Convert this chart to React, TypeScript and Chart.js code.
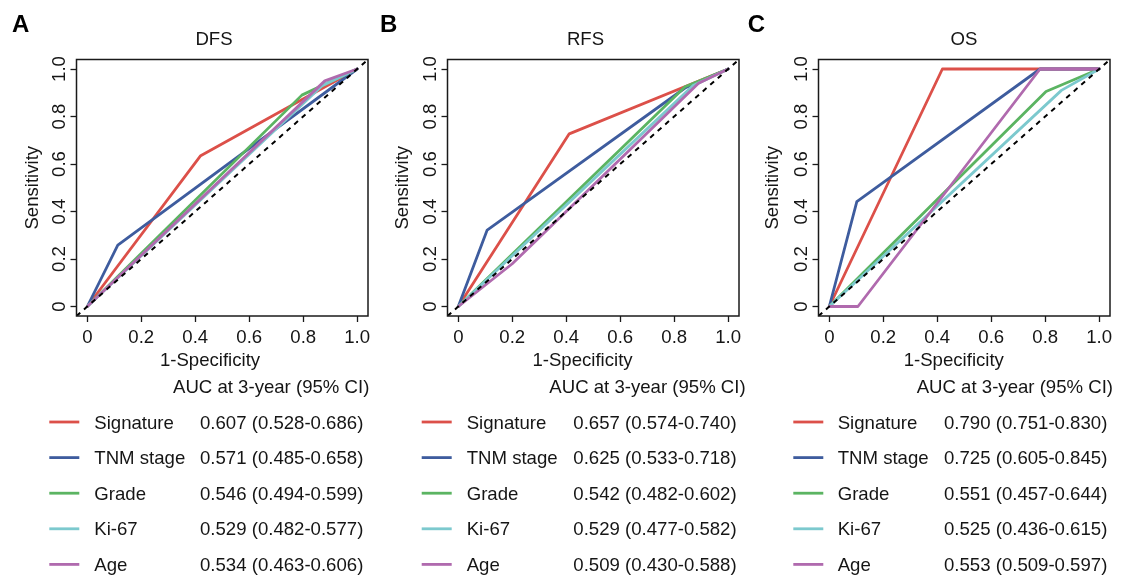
import React, { useEffect, useRef } from 'react';
import { Chart, registerables } from 'chart.js';

Chart.register(...registerables);

// ---------------- data ----------------
const MODELS = ['Signature', 'TNM stage', 'Grade', 'Ki-67', 'Age'];
const PANEL_LETTERS = ['A', 'B', 'C'];
const PANEL_TITLES = ['DFS', 'RFS', 'OS'];
const X_TICKS = [0, 0.2, 0.4, 0.6, 0.8, 1];
const TICK_LABELS = ['0', '0.2', '0.4', '0.6', '0.8', '1.0'];
const X_LABEL = '1-Specificity';
const Y_LABEL = 'Sensitivity';
const LEGEND_HEADER = 'AUC at 3-year (95% CI)';

// ROC points [1-specificity, sensitivity]
const DFS_SIGNATURE = [[0, 0], [0.42, 0.635], [1, 1]];
const DFS_TNM = [[0, 0], [0.113, 0.258], [1, 1]];
const DFS_GRADE = [[0, 0], [0.795, 0.89], [1, 1]];
const DFS_KI67 = [[0, 0], [0.87, 0.93], [1, 1]];
const DFS_AGE = [[0, 0], [0.88, 0.95], [1, 1]];

const RFS_SIGNATURE = [[0, 0], [0.411, 0.727], [1, 1]];
const RFS_TNM = [[0, 0], [0.107, 0.322], [0.84, 0.92], [1, 1]];
const RFS_GRADE = [[0, 0], [0.84, 0.925], [1, 1]];
const RFS_KI67 = [[0, 0], [0.87, 0.93], [1, 1]];
const RFS_AGE = [[0, 0], [0.2, 0.18], [0.89, 0.94], [1, 1]];

const OS_SIGNATURE = [[0, 0], [0.419, 1], [1, 1]];
const OS_TNM = [[0, 0], [0.102, 0.442], [0.781, 1], [1, 1]];
const OS_GRADE = [[0, 0], [0.803, 0.905], [1, 1]];
const OS_KI67 = [[0, 0], [0.86, 0.91], [1, 1]];
const OS_AGE = [[0, 0], [0.106, 0], [0.781, 1], [1, 1]];

const DFS_AUC = ['0.607 (0.528-0.686)', '0.571 (0.485-0.658)', '0.546 (0.494-0.599)', '0.529 (0.482-0.577)', '0.534 (0.463-0.606)'];
const RFS_AUC = ['0.657 (0.574-0.740)', '0.625 (0.533-0.718)', '0.542 (0.482-0.602)', '0.529 (0.477-0.582)', '0.509 (0.430-0.588)'];
const OS_AUC = ['0.790 (0.751-0.830)', '0.725 (0.605-0.845)', '0.551 (0.457-0.644)', '0.525 (0.436-0.615)', '0.553 (0.509-0.597)'];

const DIAGONAL = [[-0.04, -0.04], [1.04, 1.04]];

const PANEL_CURVES = [
  [DFS_SIGNATURE, DFS_TNM, DFS_GRADE, DFS_KI67, DFS_AGE],
  [RFS_SIGNATURE, RFS_TNM, RFS_GRADE, RFS_KI67, RFS_AGE],
  [OS_SIGNATURE, OS_TNM, OS_GRADE, OS_KI67, OS_AGE],
];
const PANEL_AUC = [DFS_AUC, RFS_AUC, OS_AUC];

// ---------------- style / layout ----------------
const W = 1124;
const H = 579;
const COLORS = ['#DC5049', '#3E5C9E', '#5BB462', '#7CC9CE', '#B06AAE'];
const FONT_FAMILY = '"Liberation Sans", Arial, Helvetica, sans-serif';
const FONT = `18.6px ${FONT_FAMILY}`;
const LETTER_FONT = `bold 24px ${FONT_FAMILY}`;
const TEXT_COLOR = '#151515';
const LINE_W = 2.8;

const BOX_TOP = 59.5;
const BOX_BOTTOM = 316;
const TICK_LEN = 6;

const LAYOUT = [
  { boxLeft: 76.5, boxRight: 368, letterX: 12, titleX: 214, xlabX: 210, ylabOff: 38.5, lineX: 49.3, labelX: 94.3, valueX: 200, headerX: 173 },
  { boxLeft: 447.5, boxRight: 739, letterX: 380, titleX: 585.5, xlabX: 582.5, ylabOff: 40, lineX: 421.7, labelX: 466.7, valueX: 573.3, headerX: 549.3 },
  { boxLeft: 818.5, boxRight: 1110, letterX: 747.7, titleX: 964, xlabX: 953.8, ylabOff: 40.5, lineX: 793.3, labelX: 837.7, valueX: 944, headerX: 916.7 },
];

const toXY = (pts: number[][]) => pts.map(([x, y]) => ({ x, y }));

function makeDecorPlugin(idx: number) {
  const L = LAYOUT[idx];
  return {
    id: 'decor' + idx,
    afterDraw(chart: any) {
      const ctx = chart.ctx as CanvasRenderingContext2D;
      const ca = chart.chartArea;
      const xs = chart.scales.x;
      const ys = chart.scales.y;
      ctx.save();
      // box
      ctx.strokeStyle = '#1a1a1a';
      ctx.lineWidth = 1.5;
      ctx.strokeRect(ca.left, ca.top, ca.right - ca.left, ca.bottom - ca.top);

      ctx.fillStyle = TEXT_COLOR;
      ctx.font = FONT;
      ctx.textBaseline = 'alphabetic';

      // x tick labels
      ctx.textAlign = 'center';
      X_TICKS.forEach((v, i) => ctx.fillText(TICK_LABELS[i], xs.getPixelForValue(v), 343));

      // y tick labels (rotated)
      X_TICKS.forEach((v, i) => {
        ctx.save();
        ctx.translate(ca.left - 12, ys.getPixelForValue(v));
        ctx.rotate(-Math.PI / 2);
        ctx.textAlign = 'center';
        ctx.fillText(TICK_LABELS[i], 0, 0);
        ctx.restore();
      });

      // axis titles
      ctx.textAlign = 'center';
      ctx.fillText(X_LABEL, L.xlabX, 366);
      ctx.save();
      ctx.translate(ca.left - L.ylabOff, (ca.top + ca.bottom) / 2);
      ctx.rotate(-Math.PI / 2);
      ctx.fillText(Y_LABEL, 0, 0);
      ctx.restore();

      // panel title
      ctx.fillText(PANEL_TITLES[idx], L.titleX, 45);

      // panel letter
      ctx.font = LETTER_FONT;
      ctx.textAlign = 'left';
      ctx.fillStyle = '#000';
      ctx.fillText(PANEL_LETTERS[idx], L.letterX, 32);

      // legend
      ctx.font = FONT;
      ctx.fillStyle = TEXT_COLOR;
      ctx.textAlign = 'left';
      ctx.fillText(LEGEND_HEADER, L.headerX, 393);
      const aucs = PANEL_AUC[idx];
      MODELS.forEach((m, i) => {
        const cy = 422 + i * 35.6;
        ctx.strokeStyle = COLORS[i];
        ctx.lineWidth = LINE_W;
        ctx.beginPath();
        ctx.moveTo(L.lineX, cy);
        ctx.lineTo(L.lineX + 30, cy);
        ctx.stroke();
        ctx.fillText(m, L.labelX, cy + 6.5);
        ctx.fillText(aucs[i], L.valueX, cy + 6.5);
      });
      ctx.restore();
    },
  };
}

function Panel({ idx }: { idx: number }) {
  const ref = useRef<HTMLCanvasElement | null>(null);
  useEffect(() => {
    const canvas = ref.current;
    if (!canvas) return;
    const L = LAYOUT[idx];
    const curves = PANEL_CURVES[idx];
    const datasets: any[] = curves.map((pts, i) => ({
      label: MODELS[i],
      data: toXY(pts),
      borderColor: COLORS[i],
      backgroundColor: COLORS[i],
      borderWidth: LINE_W,
      pointRadius: 0,
      tension: 0,
      fill: false,
      borderCapStyle: 'round',
      borderJoinStyle: 'round',
      order: MODELS.length - i,
    }));
    datasets.push({
      label: 'reference',
      data: toXY(DIAGONAL),
      borderColor: '#000',
      borderWidth: 2,
      borderDash: [5, 5],
      pointRadius: 0,
      tension: 0,
      fill: false,
      order: 0,
    });
    const tickCfg = (which: 'x' | 'y') => ({
      type: 'linear',
      min: -0.04,
      max: 1.04,
      afterBuildTicks: (s: any) => {
        s.ticks = X_TICKS.map((v) => ({ value: v }));
      },
      afterFit: (s: any) => {
        if (which === 'x') s.height = TICK_LEN;
        else s.width = TICK_LEN;
      },
      ticks: { display: false },
      grid: {
        display: true,
        drawOnChartArea: false,
        drawTicks: true,
        tickLength: TICK_LEN,
        tickColor: '#1a1a1a',
        tickWidth: 1.3,
        color: '#1a1a1a',
      },
      border: { display: false },
      title: { display: false },
    });
    const chart = new Chart(canvas, {
      type: 'line',
      data: { datasets },
      options: {
        responsive: false,
        animation: false,
        devicePixelRatio: 1,
        layout: {
          padding: {
            left: L.boxLeft - TICK_LEN,
            right: W - L.boxRight,
            top: BOX_TOP,
            bottom: H - BOX_BOTTOM - TICK_LEN,
          },
        },
        plugins: {
          legend: { display: false },
          tooltip: { enabled: false },
          title: { display: false },
        },
        events: [],
        scales: {
          x: tickCfg('x') as any,
          y: tickCfg('y') as any,
        },
      },
      plugins: [makeDecorPlugin(idx)],
    } as any);
    return () => chart.destroy();
  }, [idx]);
  return (
    <canvas
      ref={ref}
      width={W}
      height={H}
      style={{ position: 'absolute', left: 0, top: 0, width: W, height: H }}
    />
  );
}

export default function App() {
  return (
    <div
      style={{
        position: 'fixed',
        left: 0,
        top: 0,
        width: W,
        height: H,
        background: '#fff',
        overflow: 'hidden',
      }}
    >
      <Panel idx={0} />
      <Panel idx={1} />
      <Panel idx={2} />
    </div>
  );
}
